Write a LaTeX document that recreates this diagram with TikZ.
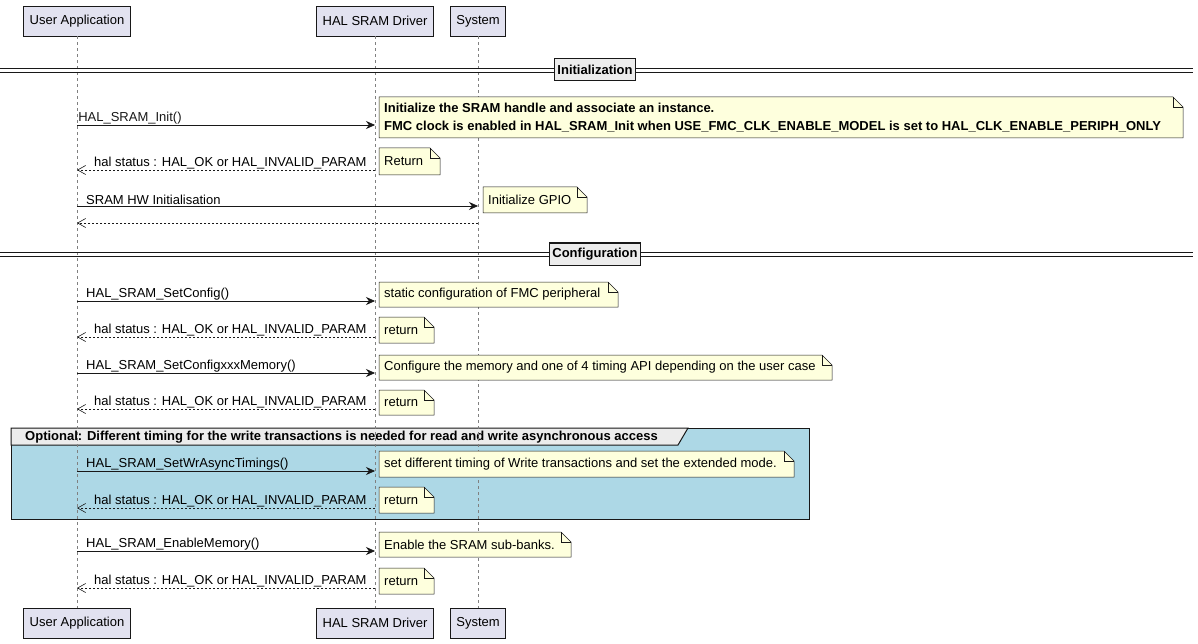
\documentclass[tikz,border=0pt]{standalone}
\usepackage{fontspec}
\setmainfont{Liberation Sans}
\usetikzlibrary{arrows.meta, positioning}
\definecolor{partfill}{HTML}{E2E2F0}
\definecolor{notefill}{HTML}{FEFFDD}
\definecolor{groupfill}{HTML}{ADD8E6}
\definecolor{edgegray}{HTML}{181818}
\newcommand{\foldnote}[5]{% x1,y1,x2,y2,text
  \draw[edgegray, fill=notefill, line width=0.5pt] (#1,#2) -- (#3-10,#2) -- (#3,#2+10) -- (#3,#4) -- (#1,#4) -- cycle;
  \draw[edgegray, line width=0.5pt] (#3-10,#2) -- (#3-10,#2+10) -- (#3,#2+10);
  \node[notetext] at (#1+5,{(#2+#4)/2}) {#5};}
\begin{document}
\begin{tikzpicture}[x=1pt, y=-1pt, font=\fontsize{13}{16}\selectfont,
    part/.style={draw=edgegray, fill=partfill, line width=0.5pt, minimum height=30pt, inner xsep=6pt},
    life/.style={gray, dashed, line width=0.5pt},
    msg/.style={-{Stealth[length=9pt,width=8pt]}, edgegray, line width=0.6pt},
    ret/.style={-{Straight Barb[length=8pt,width=9pt]}, edgegray, line width=0.6pt, dash pattern=on 2pt off 2pt},
    lbl/.style={anchor=south west, inner sep=1pt},
    notetext/.style={anchor=west, inner sep=0pt, align=left, font=\fontsize{13}{18}\selectfont},
    divlabel/.style={draw=edgegray, fill=gray!15, line width=1pt, font=\fontsize{13}{16}\selectfont\bfseries, minimum height=22pt}]
  \useasboundingbox (0,0) rectangle (1198,644);
  % participants
  \node[part] (uaT) at (77,21) {User Application};
  \node[part] (halT) at (375,21) {HAL SRAM Driver};
  \node[part] (sysT) at (478,21) {System};
  \node[part] (uaB) at (77,623) {User Application};
  \node[part] (halB) at (375,623) {HAL SRAM Driver};
  \node[part] (sysB) at (478,623) {System};
  % group
  \draw[edgegray, fill=groupfill, line width=1pt] (11,428) rectangle (809,519);
  \draw[edgegray, fill=gray!15, line width=1pt] (11,428) -- (688,428) -- (678,445) -- (11,445) -- cycle;
  \node[anchor=west, inner sep=0pt, font=\fontsize{13}{16}\selectfont\bfseries] (grp) at (25,437) {Optional: Different timing for the write transactions is needed for read and write asynchronous access};
  % lifelines
  \foreach \p in {ua, hal, sys}
    \draw[life] (\p T) -- (\p B);
  % dividers
  \foreach \y/\t/\n in {70/Initialization/dinit, 254/Configuration/dconf} {
    \draw[edgegray, line width=0.6pt] (0,\y-2) -- (1193,\y-2) (0,\y+2) -- (1193,\y+2);
    \node[divlabel] (\n) at (595,\y) {\t};
  }
  % Initialization
  \draw[msg] (uaT |- 0,125) -- (halT |- 0,125) node[lbl, pos=0] at (85,125) {HAL\_SRAM\_Init()};
  \foldnote{379}{97}{1183}{138}{\textbf{Initialize the SRAM handle and associate an instance.}\\\textbf{FMC clock is enabled in HAL\_SRAM\_Init when USE\_FMC\_CLK\_ENABLE\_MODEL is set to HAL\_CLK\_ENABLE\_PERIPH\_ONLY}}
  \draw[ret] (halT |- 0,170) -- (uaT |- 0,170);
  \node[lbl] at (93,170) {hal status : HAL\_OK or HAL\_INVALID\_PARAM};
  \foldnote{379}{148}{440}{175}{Return}
  \draw[msg] (uaT |- 0,206) -- (sysT |- 0,206);
  \node[lbl] at (85,206) {SRAM HW Initialisation};
  \foldnote{483}{187}{587}{213}{Initialize GPIO}
  \draw[ret] (sysT |- 0,223) -- (uaT |- 0,223);
  % Configuration
  \draw[msg] (uaT |- 0,301) -- (halT |- 0,301);
  \node[lbl] at (85,301) {HAL\_SRAM\_SetConfig()};
  \foldnote{379}{282}{618}{307}{static configuration of FMC peripheral}
  \draw[ret] (halT |- 0,337) -- (uaT |- 0,337);
  \node[lbl] at (93,337) {hal status : HAL\_OK or HAL\_INVALID\_PARAM};
  \foldnote{379}{317}{434}{343}{return}
  \draw[msg] (uaT |- 0,373) -- (halT |- 0,373);
  \node[lbl] at (85,373) {HAL\_SRAM\_SetConfigxxxMemory()};
  \foldnote{379}{355}{832}{380}{Configure the memory and one of 4 timing API depending on the user case}
  \draw[ret] (halT |- 0,409) -- (uaT |- 0,409);
  \node[lbl] at (93,409) {hal status : HAL\_OK or HAL\_INVALID\_PARAM};
  \foldnote{379}{390}{434}{415}{return}
  % optional group
  \draw[msg] (uaT |- 0,471) -- (halT |- 0,471);
  \node[lbl] at (85,471) {HAL\_SRAM\_SetWrAsyncTimings()};
  \foldnote{379}{451}{794}{477}{set different timing of Write transactions and set the extended mode.}
  \draw[ret] (halT |- 0,508) -- (uaT |- 0,508);
  \node[lbl] at (93,508) {hal status : HAL\_OK or HAL\_INVALID\_PARAM};
  \foldnote{379}{487}{434}{513}{return}
  % enable
  \draw[msg] (uaT |- 0,551) -- (halT |- 0,551);
  \node[lbl] at (85,551) {HAL\_SRAM\_EnableMemory()};
  \foldnote{379}{532}{571}{557}{Enable the SRAM sub-banks.}
  \draw[ret] (halT |- 0,588) -- (uaT |- 0,588);
  \node[lbl] at (93,588) {hal status : HAL\_OK or HAL\_INVALID\_PARAM};
  \foldnote{379}{568}{434}{594}{return}
\end{tikzpicture}
\end{document}
